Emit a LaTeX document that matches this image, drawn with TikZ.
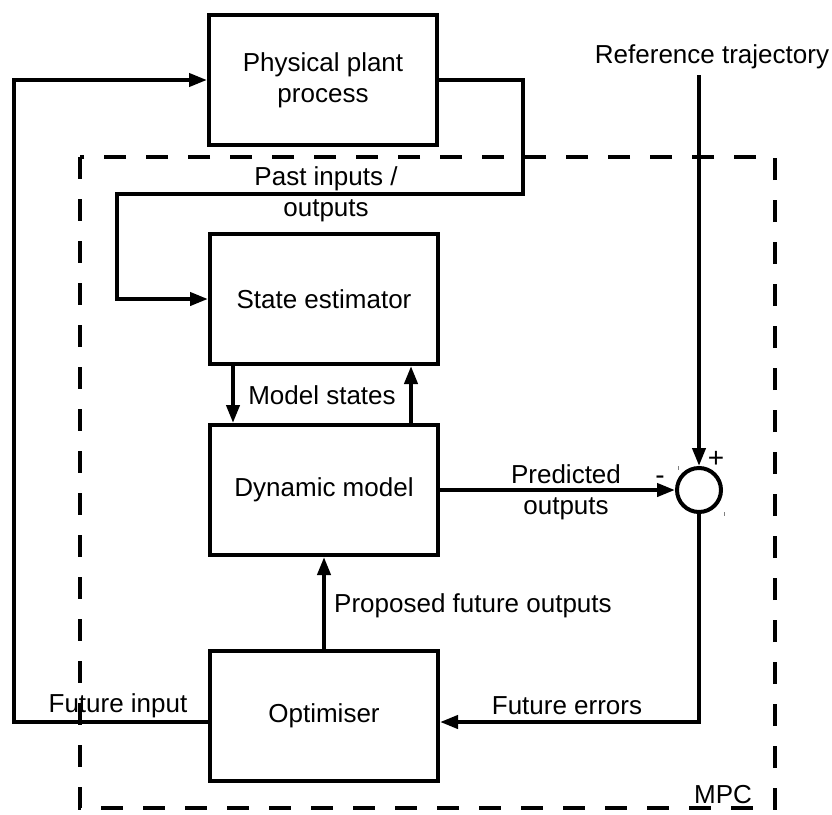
\documentclass[tikz,border=0pt]{standalone}
\usepackage{fontspec}
\setmainfont{Liberation Sans}
\usetikzlibrary{arrows.meta}
\begin{document}
\begin{tikzpicture}[x=1pt,y=-1pt,
  every node/.style={font=\fontsize{26}{31}\selectfont},
  block/.style={draw,line width=4pt,minimum width=228pt,minimum height=130pt,align=center,inner sep=0pt},
  wire/.style={line width=4pt},
  arr/.style={wire,-{Triangle[length=18pt,width=13pt]}},
  lbl/.style={align=center,inner sep=0pt},
  sign/.style={font=\fontsize{28}{30}\selectfont,inner sep=0pt}]
  \useasboundingbox (0,0) rectangle (832,814);

  % MPC boundary
  \draw[line width=3.5pt,dash pattern=on 22pt off 20pt] (80,157) rectangle (775,808);
  \node[lbl] (mpc) at (723,795) {MPC};

  % blocks
  \node[block] (plant) at (323,80) {Physical plant\\process};
  \node[block] (se) at (324,299) {State estimator};
  \node[block] (dm) at (324,490) {Dynamic model};
  \node[block] (opt) at (324,716) {Optimiser};
  \node[draw,circle,line width=4pt,minimum size=44pt,inner sep=0pt] (sum) at (699,490) {};

  % reference input
  \node[lbl] (reftxt) at (712,57) {Reference trajectory};
  \coordinate (refin) at (sum.north |- 0,75);
  \draw[arr] (refin) -- (sum.north);
  \node[sign] (plus) at (716,459) {+};
  \node[sign] (minus) at (660,480) {-};
  \draw[line width=0.8pt,gray] (678,466) -- (678,470);
  \draw[line width=0.8pt,gray] (724,512) -- (724,516);

  % plant -> state estimator
  \coordinate (p1) at (523,80);
  \coordinate (p2) at (523,194);
  \coordinate (p3) at (117,194);
  \draw[arr] (plant.east) -- (p1) -- (p2) -- (p3) |- (se.west);
  \node[lbl] (pastlbl) at (326,194) {Past inputs /\\outputs};

  % model states
  \draw[arr] ([xshift=-91pt]se.south) -- ([xshift=-91pt]dm.north);
  \draw[arr] ([xshift=87pt]dm.north) -- ([xshift=87pt]se.south);
  \node[lbl] (mslbl) at (322,395) {Model states};

  % predicted outputs
  \draw[arr] (dm.east) -- (sum.west);
  \node[lbl] (predlbl) at (566,492) {Predicted\\outputs};

  % proposed future outputs
  \draw[arr] (opt.north) -- (dm.south);
  \node[lbl,anchor=west] (proplbl) at (334,606) {Proposed future outputs};

  % future errors
  \draw[arr] (sum.south) |- ([yshift=-6pt]opt.east);
  \node[lbl] (errlbl) at (567,706) {Future errors};

  % future input back to plant
  \coordinate (l1) at (14,722);
  \draw[arr] ([yshift=-6pt]opt.west) -- (l1) |- (plant.west);
  \node[lbl] (inlbl) at (118,706) {Future input};
\end{tikzpicture}
\end{document}
